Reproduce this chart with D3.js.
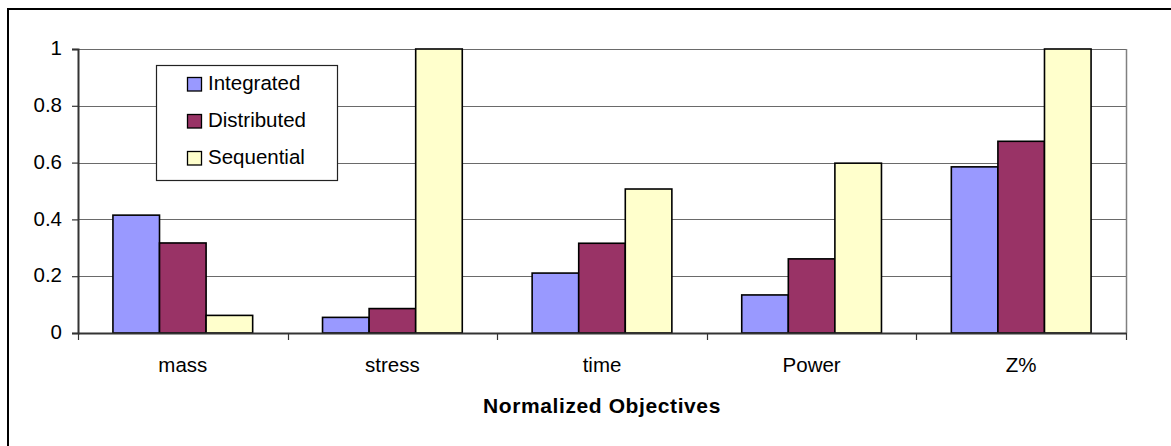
<!DOCTYPE html>
<html>
<head>
<meta charset="utf-8">
<script src="https://cdn.jsdelivr.net/npm/d3@7/dist/d3.min.js"></script>
<style>
  html, body { margin: 0; padding: 0; background: #fff; }
  svg { display: block; font-family: "Liberation Sans", Arial, sans-serif; }
</style>
</head>
<body>
<svg id="chart" width="1171" height="446"></svg>
<script>
const categories = ["mass", "stress", "time", "Power", "Z%"];
const seriesNames = ["Integrated", "Distributed", "Sequential"];
const integrated  = [0.415, 0.055, 0.211, 0.134, 0.585];
const distributed = [0.317, 0.086, 0.316, 0.261, 0.675];
const sequential  = [0.062, 1.0,   0.507, 0.598, 1.0];
const yTicks = [0, 0.2, 0.4, 0.6, 0.8, 1];
const yTickLabels = ["0", "0.2", "0.4", "0.6", "0.8", "1"];
const xTitle = "Normalized Objectives";
const colors = ["#9999FF", "#993366", "#FFFFCC"];

const seriesValues = [integrated, distributed, sequential];

const svg = d3.select("#chart");
const pLeft = 78, pRight = 1126, pTop = 49, pBottom = 333;

// outer frame (extends beyond right and bottom edges)
svg.append("rect")
  .attr("x", 8).attr("y", 9)
  .attr("width", 1200).attr("height", 500)
  .attr("fill", "none").attr("stroke", "#000").attr("stroke-width", 2);

const x0 = d3.scaleBand().domain(categories).range([pLeft, pRight]).paddingInner(0).paddingOuter(0);
const bw = x0.bandwidth() / (3 + 1.5);
const x1 = d3.scaleBand().domain(seriesNames).range([bw * 0.75, bw * 3.75]).padding(0);
const y = d3.scaleLinear().domain([0, 1]).range([pBottom, pTop]);

// gridlines
svg.append("g").selectAll("line").data(yTicks.filter(t => t > 0)).join("line")
  .attr("x1", pLeft).attr("x2", pRight)
  .attr("y1", d => Math.round(y(d)) + 0.5).attr("y2", d => Math.round(y(d)) + 0.5)
  .attr("stroke", "#6a6a6a").attr("stroke-width", 1.2);

// plot right border
svg.append("line")
  .attr("x1", pRight + 0.5).attr("x2", pRight + 0.5)
  .attr("y1", pTop).attr("y2", pBottom)
  .attr("stroke", "#808080").attr("stroke-width", 1.5);

// bars
const groups = svg.append("g").selectAll("g").data(categories).join("g")
  .attr("transform", d => `translate(${x0(d)},0)`);
groups.selectAll("rect").data((c, i) => seriesNames.map((s, j) => ({ s, j, v: seriesValues[j][i] })))
  .join("rect")
  .attr("x", d => x1(d.s))
  .attr("width", x1.bandwidth())
  .attr("y", d => y(d.v))
  .attr("height", d => pBottom - y(d.v))
  .attr("fill", d => colors[d.j])
  .attr("stroke", "#000").attr("stroke-width", 1.6);

// y axis
const yAxis = d3.axisLeft(y).tickValues(yTicks).tickFormat((d, i) => yTickLabels[i]).tickSize(6).tickPadding(10);
const gy = svg.append("g").attr("transform", `translate(${pLeft},0)`).call(yAxis);
gy.select(".domain").attr("stroke", "#333").attr("stroke-width", 2);
gy.selectAll(".tick line").attr("stroke", "#333").attr("stroke-width", 1.2);
gy.selectAll(".tick text").attr("font-size", 20.5).attr("fill", "#000")
  .attr("font-family", "Liberation Sans, Arial, sans-serif").attr("dy", "0.28em");

// x axis
const xAxis = d3.axisBottom(x0).tickSize(0).tickPadding(0);
const gx = svg.append("g").attr("transform", `translate(0,${pBottom})`).call(xAxis);
gx.select(".domain").attr("stroke", "#333").attr("stroke-width", 1.8);
gx.selectAll(".tick text").attr("font-size", 20.5).attr("fill", "#000")
  .attr("font-family", "Liberation Sans, Arial, sans-serif")
  .attr("dy", null).attr("y", 39);
// category boundary ticks
const bounds = categories.map(c => x0(c)).concat([pRight]);
svg.append("g").selectAll("line").data(bounds).join("line")
  .attr("x1", d => Math.round(d) + 0.5).attr("x2", d => Math.round(d) + 0.5)
  .attr("y1", pBottom).attr("y2", pBottom + 7)
  .attr("stroke", "#333").attr("stroke-width", 1.2);

// x title
svg.append("text")
  .attr("x", (pLeft + pRight) / 2).attr("y", 413)
  .attr("text-anchor", "middle")
  .attr("font-size", 21).attr("font-weight", "bold")
  .attr("letter-spacing", "0.6px")
  .text(xTitle);

// legend
const lg = svg.append("g");
lg.append("rect").attr("x", 156.5).attr("y", 65.5).attr("width", 181).attr("height", 115)
  .attr("fill", "#fff").attr("stroke", "#222").attr("stroke-width", 1.2);
const items = lg.selectAll("g").data(seriesNames).join("g")
  .attr("transform", (d, i) => `translate(0,${77.5 + i * 37})`);
items.append("rect").attr("x", 187.5).attr("y", 0).attr("width", 14).attr("height", 13.5)
  .attr("fill", (d, i) => colors[i]).attr("stroke", "#000").attr("stroke-width", 1.3);
items.append("text").attr("x", 208).attr("y", 12.5)
  .attr("font-size", 20.5).attr("fill", "#000")
  .text(d => d);
</script>
</body>
</html>
